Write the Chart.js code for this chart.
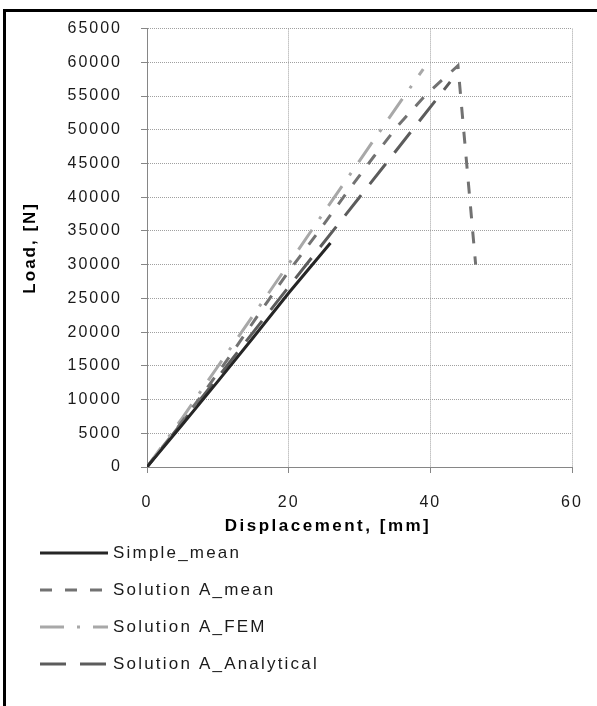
<!DOCTYPE html>
<html><head><meta charset="utf-8">
<script src="https://cdn.jsdelivr.net/npm/chart.js@4/dist/chart.umd.min.js"></script>
<style>
html,body{margin:0;padding:0;background:#fff;}
#wrap{position:relative;width:597px;height:706px;overflow:hidden;background:#fff;}
#frame{position:absolute;left:3px;top:9px;width:640px;height:740px;border-left:3px solid #000;border-top:3px solid #000;}
canvas{position:absolute;left:0;top:0;}
</style></head><body>
<div id="wrap"><div id="frame"></div><canvas id="c" width="597" height="706"></canvas></div>
<script>
// ---- data ----
const seriesNames = ['Simple_mean', 'Solution A_mean', 'Solution A_FEM', 'Solution A_Analytical'];
const simpleMeanX = [0, 5, 10, 15, 20, 25.9];
const simpleMeanY = [0, 6300, 12700, 19200, 25800, 33200];
const aMeanX = [0, 4, 8, 12, 16, 20, 24, 28, 32, 35.5, 39.3, 42.1, 43.9, 46.4];
const aMeanY = [0, 5400, 11000, 16900, 23000, 29000, 34600, 40400, 46000, 50700, 55100, 57800, 59500, 30000];
const aFemX = [0, 5, 10, 15, 20, 25, 30, 35, 39];
const aFemY = [0, 7300, 14900, 22500, 30100, 37800, 45400, 53000, 59000];
const aAnalyticalX = [0, 10, 20, 30, 42.8];
const aAnalyticalY = [0, 13300, 26700, 40000, 57100];
const xTicks = [0, 20, 40, 60];
const yTicks = [0, 5000, 10000, 15000, 20000, 25000, 30000, 35000, 40000, 45000, 50000, 55000, 60000, 65000];
const xTitle = 'Displacement, [mm]';
const yTitle = 'Load, [N]';

const pts = (xs, ys) => xs.map((x, i) => ({x: x, y: ys[i]}));
const FONT = '"Liberation Sans", Arial, sans-serif';
const LS = '2px';

const spacing = {
  id: 'spacing',
  beforeUpdate(chart){ chart.ctx.letterSpacing = LS; },
  beforeLayout(chart){ chart.ctx.letterSpacing = LS; },
  beforeDraw(chart){ chart.ctx.letterSpacing = LS; }
};

const listLegend = {
  id: 'listLegend',
  afterDraw(chart){
    const ctx = chart.ctx;
    ctx.save();
    // x axis title
    ctx.letterSpacing = '2.5px';
    ctx.font = 'bold 17px ' + FONT;
    ctx.fillStyle = '#000';
    ctx.textAlign = 'center';
    ctx.textBaseline = 'middle';
    ctx.fillText(xTitle, 328, 526);
    // legend list
    ctx.letterSpacing = '2.2px';
    ctx.textAlign = 'left';
    ctx.font = '17px ' + FONT;
    chart.data.datasets.forEach((ds, i) => {
      const y = 553 + i * 37;
      ctx.beginPath();
      ctx.setLineDash(ds.borderDash || []);
      ctx.strokeStyle = ds.borderColor;
      ctx.lineWidth = ds.borderWidth;
      ctx.moveTo(40, y);
      ctx.lineTo(108, y);
      ctx.stroke();
      ctx.setLineDash([]);
      ctx.fillStyle = '#1a1a1a';
      ctx.fillText(ds.label, 113, y);
    });
    ctx.restore();
  }
};

const mk = (label, data, color, dash) => ({
  label: label, data: data, showLine: true, borderColor: color, backgroundColor: color,
  borderWidth: 3, borderDash: dash, pointRadius: 0, pointHoverRadius: 0, tension: 0, fill: false
});

const gridOpts = {color: '#a0a0a0', lineWidth: 1, drawTicks: true, tickLength: 6, tickColor: '#868686', tickBorderDash: []};
const borderOpts = {display: true, color: '#868686', width: 1, dash: [1, 1]};

new Chart(document.getElementById('c'), {
  type: 'scatter',
  data: {
    datasets: [
      mk(seriesNames[0], pts(simpleMeanX, simpleMeanY), '#262626', []),
      mk(seriesNames[1], pts(aMeanX, aMeanY), '#727272', [12, 13]),
      mk(seriesNames[2], pts(aFemX, aFemY), '#a8a8a8', [24, 13, 3, 13]),
      mk(seriesNames[3], pts(aAnalyticalX, aAnalyticalY), '#5c5c5c', [26, 14])
    ]
  },
  options: {
    responsive: false,
    animation: false,
    layout: {padding: {left: 8, top: 22, right: 25, bottom: 184}},
    plugins: {legend: {display: false}, tooltip: {enabled: false}},
    scales: {
      x: {
        type: 'linear', min: 0, max: 60,
        afterBuildTicks: (s) => { s.ticks = xTicks.map(v => ({value: v})); },
        afterFit: (s) => { s.height = 55; s.paddingLeft = 0; s.paddingRight = 0; },
        ticks: {font: {family: FONT, size: 16}, color: '#1a1a1a', padding: 20, callback: (v) => String(v)},
        grid: gridOpts,
        border: borderOpts
      },
      y: {
        type: 'linear', min: 0, max: 65000,
        afterBuildTicks: (s) => { s.ticks = yTicks.map(v => ({value: v})); },
        afterFit: (s) => { s.width = 139; },
        ticks: {font: {family: FONT, size: 16}, color: '#1a1a1a', padding: 19, callback: (v) => String(v)},
        grid: gridOpts,
        border: borderOpts,
        title: {display: true, text: yTitle, font: {family: FONT, size: 17, weight: 'bold'}, color: '#000', padding: {top: 12, bottom: 0}}
      }
    }
  },
  plugins: [spacing, listLegend]
});
</script>
</body></html>
